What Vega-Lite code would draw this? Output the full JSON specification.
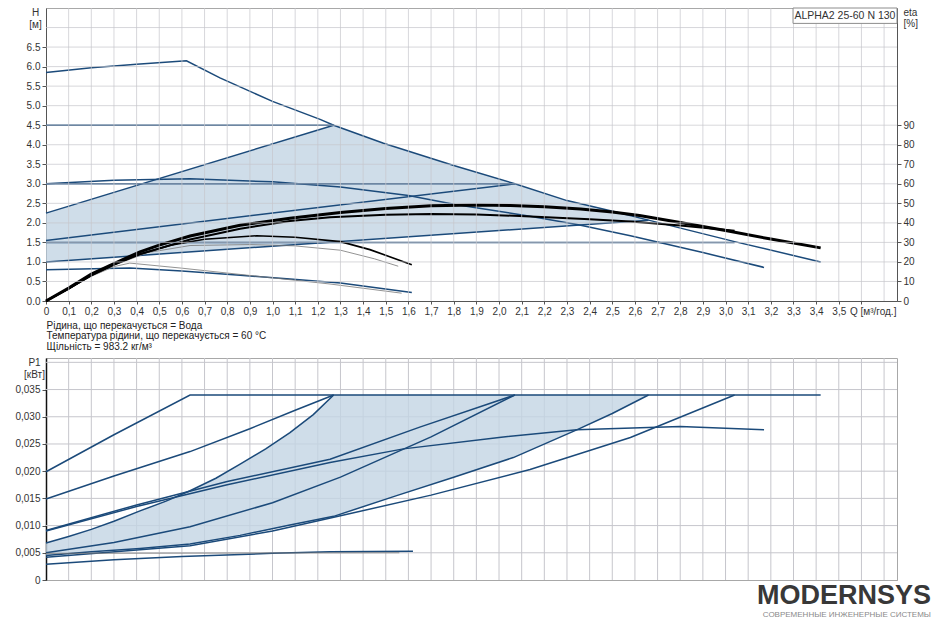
{
  "$schema": "https://vega.github.io/schema/vega-lite/v6.json",
  "padding": {"left": 14, "top": 7, "right": 0, "bottom": 0},
  "background": "white",
  "bounds": "flush",
  "spacing": 57,
  "config": {
    "font": "Liberation Sans",
    "view": {"stroke": "#a8a8a8", "strokeWidth": 1},
    "axis": {"labelFont": "Liberation Sans", "labelFontSize": 10, "labelColor": "#333333", "titleFont": "Liberation Sans", "titleColor": "#333333", "domainColor": "#555555", "tickColor": "#555555", "labelOverlap": false, "labelFlush": false, "labelBound": false, "grid": false}
  },
  "title": {"text": "MODERNSYS", "subtitle": "СОВРЕМЕННЫЕ ИНЖЕНЕРНЫЕ СИСТЕМЫ", "orient": "bottom", "anchor": "end", "font": "Liberation Sans", "fontSize": 27, "fontWeight": "bold", "color": "#383838", "subtitleFont": "Liberation Sans", "subtitleFontSize": 8, "subtitleColor": "#8a8a8a", "subtitlePadding": 1, "offset": -3, "dx": 13},
  "datasets": {
    "xgrid": [{"q": 0.1}, {"q": 0.2}, {"q": 0.3}, {"q": 0.4}, {"q": 0.5}, {"q": 0.6}, {"q": 0.7}, {"q": 0.8}, {"q": 0.9}, {"q": 1.0}, {"q": 1.1}, {"q": 1.2}, {"q": 1.3}, {"q": 1.4}, {"q": 1.5}, {"q": 1.6}, {"q": 1.7}, {"q": 1.8}, {"q": 1.9}, {"q": 2.0}, {"q": 2.1}, {"q": 2.2}, {"q": 2.3}, {"q": 2.4}, {"q": 2.5}, {"q": 2.6}, {"q": 2.7}, {"q": 2.8}, {"q": 2.9}, {"q": 3.0}, {"q": 3.1}, {"q": 3.2}, {"q": 3.3}, {"q": 3.4}, {"q": 3.5}, {"q": 3.6}, {"q": 3.7}],
    "hgrid": [{"h": 0.5}, {"h": 1.0}, {"h": 1.5}, {"h": 2.0}, {"h": 2.5}, {"h": 3.0}, {"h": 3.5}, {"h": 4.0}, {"h": 4.5}, {"h": 5.0}, {"h": 5.5}, {"h": 6.0}, {"h": 6.5}, {"h": 7.0}],
    "pgrid": [{"p": 0.005}, {"p": 0.01}, {"p": 0.015}, {"p": 0.02}, {"p": 0.025}, {"p": 0.03}, {"p": 0.035}, {"p": 0.04}],
    "hlines": [
      {"s": "III", "q": 0, "h": 5.85}, {"s": "III", "q": 0.2, "h": 5.97}, {"s": "III", "q": 0.4, "h": 6.06}, {"s": "III", "q": 0.62, "h": 6.15}, {"s": "III", "q": 0.768, "h": 5.71}, {"s": "III", "q": 1.0, "h": 5.11}, {"s": "III", "q": 1.21, "h": 4.65}, {"s": "III", "q": 1.27, "h": 4.5}, {"s": "III", "q": 1.49, "h": 4.04}, {"s": "III", "q": 1.8, "h": 3.47}, {"s": "III", "q": 2.07, "h": 3.0}, {"s": "III", "q": 2.3, "h": 2.57}, {"s": "III", "q": 2.52, "h": 2.27}, {"s": "III", "q": 2.66, "h": 2.07}, {"s": "III", "q": 3.04, "h": 1.52}, {"s": "III", "q": 3.42, "h": 1.0},
      {"s": "CP3", "q": 0, "h": 4.5}, {"s": "CP3", "q": 1.27, "h": 4.5},
      {"s": "CP2", "q": 0, "h": 3.0}, {"s": "CP2", "q": 2.07, "h": 3.0},
      {"s": "CP1", "q": 0, "h": 1.5}, {"s": "CP1", "q": 3.04, "h": 1.5},
      {"s": "PP3", "q": 0, "h": 2.25}, {"s": "PP3", "q": 1.27, "h": 4.5},
      {"s": "PP2", "q": 0, "h": 1.55}, {"s": "PP2", "q": 2.07, "h": 3.0},
      {"s": "PP1", "q": 0, "h": 1.0}, {"s": "PP1", "q": 2.66, "h": 2.07},
      {"s": "II", "q": 0, "h": 3.0}, {"s": "II", "q": 0.3, "h": 3.09}, {"s": "II", "q": 0.636, "h": 3.13}, {"s": "II", "q": 1.0, "h": 3.05}, {"s": "II", "q": 1.3, "h": 2.92}, {"s": "II", "q": 1.6, "h": 2.7}, {"s": "II", "q": 1.806, "h": 2.47}, {"s": "II", "q": 2.137, "h": 2.17}, {"s": "II", "q": 2.35, "h": 1.95}, {"s": "II", "q": 2.58, "h": 1.67}, {"s": "II", "q": 2.9, "h": 1.24}, {"s": "II", "q": 3.17, "h": 0.86},
      {"s": "I", "q": 0, "h": 0.8}, {"s": "I", "q": 0.37, "h": 0.845}, {"s": "I", "q": 0.6, "h": 0.77}, {"s": "I", "q": 0.857, "h": 0.66}, {"s": "I", "q": 1.077, "h": 0.565}, {"s": "I", "q": 1.3, "h": 0.46}, {"s": "I", "q": 1.615, "h": 0.22}
    ],
    "harea": [
      {"q": 0, "top": 2.25, "bot": 1.0}, {"q": 0.3, "top": 2.78, "bot": 1.12}, {"q": 0.6, "top": 3.31, "bot": 1.24}, {"q": 0.9, "top": 3.84, "bot": 1.36}, {"q": 1.27, "top": 4.5, "bot": 1.51}, {"q": 1.49, "top": 4.04, "bot": 1.6}, {"q": 1.8, "top": 3.47, "bot": 1.72}, {"q": 2.07, "top": 3.0, "bot": 1.83}, {"q": 2.3, "top": 2.57, "bot": 1.92}, {"q": 2.52, "top": 2.27, "bot": 2.01}, {"q": 2.66, "top": 2.07, "bot": 2.07}
    ],
    "etas": [
      {"s": "E1", "q": 0, "eta": 0}, {"s": "E1", "q": 0.1, "eta": 6.6}, {"s": "E1", "q": 0.2, "eta": 13.8}, {"s": "E1", "q": 0.3, "eta": 19.2}, {"s": "E1", "q": 0.415, "eta": 25.2}, {"s": "E1", "q": 0.5, "eta": 28.6}, {"s": "E1", "q": 0.636, "eta": 33.3}, {"s": "E1", "q": 0.857, "eta": 38.8}, {"s": "E1", "q": 1.077, "eta": 42.4}, {"s": "E1", "q": 1.3, "eta": 45.3}, {"s": "E1", "q": 1.5, "eta": 47.3}, {"s": "E1", "q": 1.7, "eta": 48.7}, {"s": "E1", "q": 1.9, "eta": 49.2}, {"s": "E1", "q": 2.05, "eta": 48.9}, {"s": "E1", "q": 2.2, "eta": 48.2}, {"s": "E1", "q": 2.36, "eta": 47.1}, {"s": "E1", "q": 2.5, "eta": 45.6}, {"s": "E1", "q": 2.62, "eta": 43.8}, {"s": "E1", "q": 2.8, "eta": 40.2}, {"s": "E1", "q": 3.0, "eta": 36.1}, {"s": "E1", "q": 3.2, "eta": 31.7}, {"s": "E1", "q": 3.42, "eta": 27.2},
      {"s": "E2", "q": 0, "eta": 0}, {"s": "E2", "q": 0.1, "eta": 6.4}, {"s": "E2", "q": 0.2, "eta": 13.2}, {"s": "E2", "q": 0.3, "eta": 18.6}, {"s": "E2", "q": 0.415, "eta": 24.0}, {"s": "E2", "q": 0.636, "eta": 31.5}, {"s": "E2", "q": 0.857, "eta": 37.0}, {"s": "E2", "q": 1.077, "eta": 40.9}, {"s": "E2", "q": 1.254, "eta": 42.9}, {"s": "E2", "q": 1.5, "eta": 44.1}, {"s": "E2", "q": 1.7, "eta": 44.5}, {"s": "E2", "q": 1.9, "eta": 44.3}, {"s": "E2", "q": 2.14, "eta": 43.3}, {"s": "E2", "q": 2.4, "eta": 41.9}, {"s": "E2", "q": 2.58, "eta": 40.7}, {"s": "E2", "q": 2.8, "eta": 38.6}, {"s": "E2", "q": 3.04, "eta": 36.0},
      {"s": "EI", "q": 0, "eta": 0}, {"s": "EI", "q": 0.1, "eta": 6.3}, {"s": "EI", "q": 0.2, "eta": 13.0}, {"s": "EI", "q": 0.3, "eta": 18.6}, {"s": "EI", "q": 0.415, "eta": 24.0}, {"s": "EI", "q": 0.55, "eta": 28.6}, {"s": "EI", "q": 0.7, "eta": 31.6}, {"s": "EI", "q": 0.93, "eta": 33.4}, {"s": "EI", "q": 1.1, "eta": 32.6}, {"s": "EI", "q": 1.3, "eta": 30.4}, {"s": "EI", "q": 1.43, "eta": 26.3}, {"s": "EI", "q": 1.615, "eta": 18.6},
      {"s": "TA", "q": 0, "eta": 0}, {"s": "TA", "q": 0.1, "eta": 6.2}, {"s": "TA", "q": 0.2, "eta": 12.6}, {"s": "TA", "q": 0.3, "eta": 17.6}, {"s": "TA", "q": 0.37, "eta": 19.4}, {"s": "TA", "q": 0.6, "eta": 16.8}, {"s": "TA", "q": 0.857, "eta": 13.6}, {"s": "TA", "q": 1.077, "eta": 10.9}, {"s": "TA", "q": 1.254, "eta": 8.7}, {"s": "TA", "q": 1.57, "eta": 4.0},
      {"s": "TB", "q": 0, "eta": 0}, {"s": "TB", "q": 0.1, "eta": 6.2}, {"s": "TB", "q": 0.2, "eta": 12.8}, {"s": "TB", "q": 0.3, "eta": 18.3}, {"s": "TB", "q": 0.45, "eta": 24.8}, {"s": "TB", "q": 0.636, "eta": 28.4}, {"s": "TB", "q": 0.9, "eta": 28.9}, {"s": "TB", "q": 1.1, "eta": 28.2}, {"s": "TB", "q": 1.3, "eta": 26.0}, {"s": "TB", "q": 1.45, "eta": 21.6}, {"s": "TB", "q": 1.555, "eta": 17.8}
    ],
    "box": [{"q1": 3.298, "q2": 3.757, "h1": 7.106, "h2": 7.5, "qc": 3.527, "hc": 7.3, "label": "ALPHA2 25-60 N 130"}],
    "plines": [
      {"s": "PIII", "q": 0, "p": 0.0199}, {"s": "PIII", "q": 0.3, "p": 0.0267}, {"s": "PIII", "q": 0.636, "p": 0.034}, {"s": "PIII", "q": 3.42, "p": 0.034},
      {"s": "PCP3", "q": 0, "p": 0.0149}, {"s": "PCP3", "q": 0.3, "p": 0.0191}, {"s": "PCP3", "q": 0.636, "p": 0.0236}, {"s": "PCP3", "q": 0.9, "p": 0.0278}, {"s": "PCP3", "q": 1.1, "p": 0.0312}, {"s": "PCP3", "q": 1.27, "p": 0.034},
      {"s": "PPP3", "q": 0, "p": 0.0068}, {"s": "PPP3", "q": 0.1, "p": 0.008}, {"s": "PPP3", "q": 0.2, "p": 0.0093}, {"s": "PPP3", "q": 0.3, "p": 0.0108}, {"s": "PPP3", "q": 0.415, "p": 0.0127}, {"s": "PPP3", "q": 0.53, "p": 0.0145}, {"s": "PPP3", "q": 0.636, "p": 0.0164}, {"s": "PPP3", "q": 0.75, "p": 0.0187}, {"s": "PPP3", "q": 0.857, "p": 0.0213}, {"s": "PPP3", "q": 0.97, "p": 0.0241}, {"s": "PPP3", "q": 1.077, "p": 0.0271}, {"s": "PPP3", "q": 1.18, "p": 0.0304}, {"s": "PPP3", "q": 1.27, "p": 0.034},
      {"s": "PCP2", "q": 0, "p": 0.0091}, {"s": "PCP2", "q": 0.4, "p": 0.0138}, {"s": "PCP2", "q": 0.8, "p": 0.0181}, {"s": "PCP2", "q": 1.254, "p": 0.0222}, {"s": "PCP2", "q": 1.65, "p": 0.0281}, {"s": "PCP2", "q": 2.07, "p": 0.034},
      {"s": "PII", "q": 0, "p": 0.009}, {"s": "PII", "q": 0.4, "p": 0.0135}, {"s": "PII", "q": 0.8, "p": 0.0175}, {"s": "PII", "q": 1.254, "p": 0.0216}, {"s": "PII", "q": 1.578, "p": 0.0241}, {"s": "PII", "q": 2.0, "p": 0.0262}, {"s": "PII", "q": 2.343, "p": 0.0276}, {"s": "PII", "q": 2.8, "p": 0.0282}, {"s": "PII", "q": 3.17, "p": 0.0276},
      {"s": "PPP2", "q": 0, "p": 0.005}, {"s": "PPP2", "q": 0.3, "p": 0.0069}, {"s": "PPP2", "q": 0.636, "p": 0.0098}, {"s": "PPP2", "q": 1.0, "p": 0.0142}, {"s": "PPP2", "q": 1.3, "p": 0.0189}, {"s": "PPP2", "q": 1.7, "p": 0.0263}, {"s": "PPP2", "q": 2.07, "p": 0.034},
      {"s": "PPP1", "q": 0, "p": 0.0045}, {"s": "PPP1", "q": 0.2, "p": 0.0052}, {"s": "PPP1", "q": 0.415, "p": 0.0058}, {"s": "PPP1", "q": 0.636, "p": 0.0066}, {"s": "PPP1", "q": 0.857, "p": 0.0082}, {"s": "PPP1", "q": 1.077, "p": 0.0101}, {"s": "PPP1", "q": 1.27, "p": 0.0117}, {"s": "PPP1", "q": 1.548, "p": 0.0155}, {"s": "PPP1", "q": 1.8, "p": 0.0189}, {"s": "PPP1", "q": 2.063, "p": 0.0225}, {"s": "PPP1", "q": 2.343, "p": 0.0276}, {"s": "PPP1", "q": 2.5, "p": 0.0306}, {"s": "PPP1", "q": 2.66, "p": 0.034},
      {"s": "PCP1", "q": 0, "p": 0.0042}, {"s": "PCP1", "q": 0.636, "p": 0.0063}, {"s": "PCP1", "q": 1.0, "p": 0.009}, {"s": "PCP1", "q": 1.3, "p": 0.0118}, {"s": "PCP1", "q": 1.7, "p": 0.0156}, {"s": "PCP1", "q": 2.137, "p": 0.0203}, {"s": "PCP1", "q": 2.58, "p": 0.0262}, {"s": "PCP1", "q": 3.04, "p": 0.034},
      {"s": "PI", "q": 0, "p": 0.0029}, {"s": "PI", "q": 0.3, "p": 0.0037}, {"s": "PI", "q": 0.6, "p": 0.0043}, {"s": "PI", "q": 1.0, "p": 0.0049}, {"s": "PI", "q": 1.254, "p": 0.0052}, {"s": "PI", "q": 1.62, "p": 0.0053},
      {"s": "PIt", "q": 0, "p": 0.0049}, {"s": "PIt", "q": 1.56, "p": 0.005}
    ],
    "parea": [
      {"q": 0, "top": 0.0068, "bot": 0.0045}, {"q": 0.1, "top": 0.008, "bot": 0.0048}, {"q": 0.2, "top": 0.0093, "bot": 0.0052}, {"q": 0.3, "top": 0.0108, "bot": 0.0055}, {"q": 0.415, "top": 0.0127, "bot": 0.0058}, {"q": 0.53, "top": 0.0145, "bot": 0.0062}, {"q": 0.636, "top": 0.0164, "bot": 0.0066}, {"q": 0.75, "top": 0.0187, "bot": 0.0074}, {"q": 0.857, "top": 0.0213, "bot": 0.0082}, {"q": 0.97, "top": 0.0241, "bot": 0.0091}, {"q": 1.077, "top": 0.0271, "bot": 0.0101}, {"q": 1.18, "top": 0.0304, "bot": 0.0109}, {"q": 1.27, "top": 0.034, "bot": 0.0117}, {"q": 1.548, "top": 0.034, "bot": 0.0155}, {"q": 1.8, "top": 0.034, "bot": 0.0189}, {"q": 2.063, "top": 0.034, "bot": 0.0225}, {"q": 2.343, "top": 0.034, "bot": 0.0276}, {"q": 2.5, "top": 0.034, "bot": 0.0306}, {"q": 2.66, "top": 0.034, "bot": 0.034}
    ]
  },
  "vconcat": [
    {
      "width": 851,
      "height": 293,
      "resolve": {"scale": {"y": "independent"}},
      "layer": [
        {
          "data": {"name": "harea"},
          "mark": {"type": "area", "color": "#c3d4e4", "opacity": 0.8},
          "encoding": {
            "x": {"field": "q", "type": "quantitative", "scale": {"domain": [0, 3.757], "nice": false, "zero": false},
              "axis": {"values": [0,0.1,0.2,0.3,0.4,0.5,0.6,0.7,0.8,0.9,1.0,1.1,1.2,1.3,1.4,1.5,1.6,1.7,1.8,1.9,2.0,2.1,2.2,2.3,2.4,2.5,2.6,2.7,2.8,2.9,3.0,3.1,3.2,3.3,3.4,3.5,3.6], "tickCount": 100,
                "labelExpr": "datum.value == 0 ? '0' : format(datum.value, '.1f') == '3.6' ? 'Q [м³/год.]' : replace(format(datum.value, '.1f'), '.', ',')",
                "labelAlign": {"condition": {"test": "datum.value > 3.55", "value": "left"}, "value": "center"},
                "labelOffset": {"condition": {"test": "datum.value > 3.55", "value": -12}, "value": 0},
                "labelOverlap": false, "labelFlush": false, "grid": false, "tickSize": 3, "labelPadding": 2,
                "title": ["Рідина, що перекачується = Вода", "Температура рідини, що перекачується = 60 °C", "Щільність = 983.2 кг/м³"],
                "titleAnchor": "start", "titleAlign": "left", "titleFontWeight": "normal", "titleFontSize": 10, "titleLineHeight": 10.7, "titlePadding": 4, "titleColor": "#222222"}},
            "y": {"field": "top", "type": "quantitative", "scale": {"domain": [0, 7.5], "nice": false},
              "axis": {"values": [0,0.5,1,1.5,2,2.5,3,3.5,4,4.5,5,5.5,6,6.5], "tickCount": 100,
                "labelExpr": "format(datum.value, '.1f')",
                "labelOverlap": false, "grid": false, "tickSize": 4, "labelPadding": 2,
                "title": ["H", "[м]"], "titleAngle": 0, "titleAlign": "center", "titleBaseline": "middle", "titleX": -11, "titleY": 4.7, "titleFontWeight": "normal", "titleFontSize": 10, "titleLineHeight": 11.6}},
            "y2": {"field": "bot"}
          }
        },
        {
          "data": {"name": "hlines"},
          "mark": {"type": "line", "color": "#1b4a7a", "strokeWidth": 1.5},
          "encoding": {
            "x": {"field": "q", "type": "quantitative"},
            "y": {"field": "h", "type": "quantitative", "scale": {"domain": [0, 7.5], "nice": false}, "axis": null},
            "detail": {"field": "s", "type": "nominal"}
          }
        },
        {
          "data": {"name": "etas"},
          "transform": [{"filter": "datum.s == 'TA' || datum.s == 'TB'"}],
          "mark": {"type": "line", "color": "#777777", "strokeWidth": 0.8},
          "encoding": {
            "x": {"field": "q", "type": "quantitative"},
            "y": {"field": "eta", "type": "quantitative", "scale": {"domain": [0, 150], "nice": false},
              "axis": {"orient": "right", "values": [0,10,20,30,40,50,60,70,80,90], "tickCount": 100,
                "labelExpr": "format(datum.value, 'd')",
                "labelOverlap": false, "grid": false, "tickSize": 4, "labelPadding": 2,
                "title": ["eta", "[%]"], "titleAngle": 0, "titleAlign": "left", "titleBaseline": "middle", "titleX": 6, "titleY": 4.7, "titleFontWeight": "normal", "titleFontSize": 10, "titleLineHeight": 11}},
            "detail": {"field": "s", "type": "nominal"}
          }
        },
        {
          "data": {"name": "etas"},
          "transform": [{"filter": "datum.s == 'EI'"}],
          "mark": {"type": "line", "color": "#000000", "strokeWidth": 1.6},
          "encoding": {
            "x": {"field": "q", "type": "quantitative"},
            "y": {"field": "eta", "type": "quantitative", "scale": {"domain": [0, 150], "nice": false}, "axis": null}
          }
        },
        {
          "data": {"name": "etas"},
          "transform": [{"filter": "datum.s == 'E2'"}],
          "mark": {"type": "line", "color": "#000000", "strokeWidth": 2},
          "encoding": {
            "x": {"field": "q", "type": "quantitative"},
            "y": {"field": "eta", "type": "quantitative", "scale": {"domain": [0, 150], "nice": false}, "axis": null}
          }
        },
        {
          "data": {"name": "etas"},
          "transform": [{"filter": "datum.s == 'E1'"}],
          "mark": {"type": "line", "color": "#000000", "strokeWidth": 3},
          "encoding": {
            "x": {"field": "q", "type": "quantitative"},
            "y": {"field": "eta", "type": "quantitative", "scale": {"domain": [0, 150], "nice": false}, "axis": null}
          }
        },
        {
          "data": {"name": "xgrid"},
          "mark": {"type": "rule", "color": "#c6c6cc", "strokeWidth": 1, "opacity": 0.7},
          "encoding": {
            "x": {"field": "q", "type": "quantitative"},
            "y": {"datum": 0, "type": "quantitative", "scale": {"domain": [0, 7.5], "nice": false}, "axis": null},
            "y2": {"datum": 7.5}
          }
        },
        {
          "data": {"name": "hgrid"},
          "mark": {"type": "rule", "color": "#c6c6cc", "strokeWidth": 1, "opacity": 0.7},
          "encoding": {
            "y": {"field": "h", "type": "quantitative", "scale": {"domain": [0, 7.5], "nice": false}, "axis": null},
            "x": {"datum": 0, "type": "quantitative"},
            "x2": {"datum": 3.757}
          }
        },
        {
          "data": {"name": "box"},
          "mark": {"type": "rect", "fill": "white", "stroke": "#8c8c8c", "strokeWidth": 1},
          "encoding": {
            "x": {"field": "q1", "type": "quantitative"},
            "x2": {"field": "q2"},
            "y": {"field": "h1", "type": "quantitative", "scale": {"domain": [0, 7.5], "nice": false}, "axis": null},
            "y2": {"field": "h2"}
          }
        },
        {
          "data": {"name": "box"},
          "mark": {"type": "text", "fontSize": 10.5, "color": "#333333", "font": "Liberation Sans"},
          "encoding": {
            "x": {"field": "qc", "type": "quantitative"},
            "y": {"field": "hc", "type": "quantitative", "scale": {"domain": [0, 7.5], "nice": false}, "axis": null},
            "text": {"field": "label"}
          }
        }
      ]
    },
    {
      "width": 851,
      "height": 222,
      "layer": [
        {
          "data": {"name": "xgrid"},
          "mark": {"type": "rule", "color": "#c6c6cc", "strokeWidth": 1},
          "encoding": {
            "x": {"field": "q", "type": "quantitative", "scale": {"domain": [0, 3.757], "nice": false, "zero": false},
              "axis": {"labels": false, "ticks": false, "grid": false, "domainColor": "#a8a8a8", "title": null}}
          }
        },
        {
          "data": {"name": "pgrid"},
          "mark": {"type": "rule", "color": "#c6c6cc", "strokeWidth": 1},
          "encoding": {
            "y": {"field": "p", "type": "quantitative", "scale": {"domain": [0, 0.0408], "nice": false},
              "axis": {"values": [0,0.005,0.01,0.015,0.02,0.025,0.03,0.035], "tickCount": 100,
                "labelExpr": "datum.value == 0 ? '0' : replace(format(datum.value, '.3f'), '.', ',')",
                "labelOverlap": false, "grid": false, "tickSize": 4, "labelPadding": 2, "domainColor": "#111111", "domainWidth": 1.5,
                "title": ["P1", "[кВт]"], "titleAngle": 0, "titleAlign": "center", "titleBaseline": "middle", "titleX": -12, "titleY": 4, "titleFontWeight": "normal", "titleFontSize": 10, "titleLineHeight": 12}}
          }
        },
        {
          "mark": {"type": "rule", "color": "#111111", "strokeWidth": 2},
          "encoding": {"y": {"datum": 0.0408, "type": "quantitative"}}
        },
        {
          "data": {"name": "parea"},
          "mark": {"type": "area", "color": "#c3d4e4", "opacity": 0.8},
          "encoding": {
            "x": {"field": "q", "type": "quantitative"},
            "y": {"field": "top", "type": "quantitative"},
            "y2": {"field": "bot"}
          }
        },
        {
          "data": {"name": "plines"},
          "transform": [{"filter": "datum.s != 'PIt'"}],
          "mark": {"type": "line", "color": "#1b4a7a", "strokeWidth": 1.5},
          "encoding": {
            "x": {"field": "q", "type": "quantitative"},
            "y": {"field": "p", "type": "quantitative"},
            "detail": {"field": "s", "type": "nominal"}
          }
        },
        {
          "data": {"name": "plines"},
          "transform": [{"filter": "datum.s == 'PIt'"}],
          "mark": {"type": "line", "color": "#777777", "strokeWidth": 0.8},
          "encoding": {
            "x": {"field": "q", "type": "quantitative"},
            "y": {"field": "p", "type": "quantitative"}
          }
        }
      ]
    }
  ]
}
